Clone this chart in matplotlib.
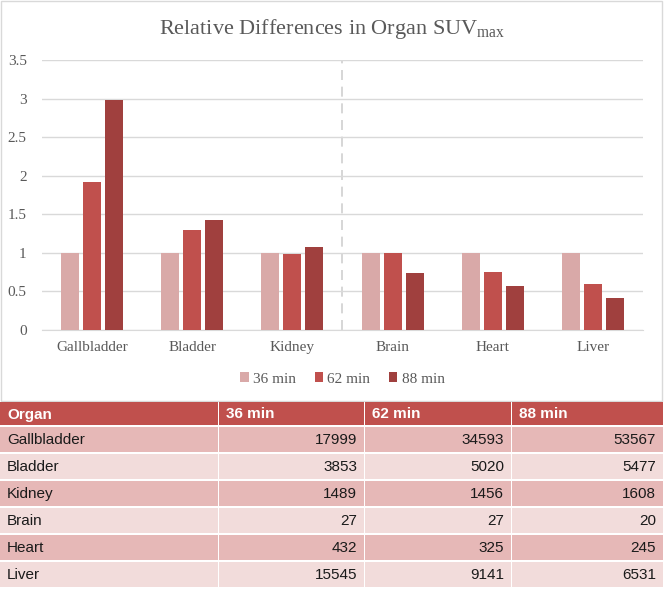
import numpy as np
import matplotlib
matplotlib.use("Agg")
import matplotlib.pyplot as plt
from matplotlib.patches import Rectangle

organs = ["Gallbladder", "Bladder", "Kidney", "Brain", "Heart", "Liver"]
series = ["36 min", "62 min", "88 min"]

# relative SUVmax (bar heights)
rel_36 = [1.0, 1.0, 1.0, 1.0, 1.0, 1.0]
rel_62 = [1.92, 1.30, 0.98, 1.0, 0.75, 0.59]
rel_88 = [2.98, 1.42, 1.08, 0.74, 0.57, 0.42]

# table values
suv_36 = [17999, 3853, 1489, 27, 432, 15545]
suv_62 = [34593, 5020, 1456, 27, 325, 9141]
suv_88 = [53567, 5477, 1608, 20, 245, 6531]

bar_colors = ["#D9A9A8", "#C0504D", "#A0403E"]
txt = "#595959"
serif = "Liberation Serif"

plt.rcParams["mathtext.fontset"] = "custom"
plt.rcParams["mathtext.rm"] = serif

W, H = 664, 590
fig = plt.figure(figsize=(W / 100, H / 100), dpi=100)

# overlay in pixel coords for border + table
ov = fig.add_axes([0, 0, 1, 1])
ov.set_xlim(0, W)
ov.set_ylim(H, 0)
ov.axis("off")
ov.add_patch(Rectangle((1, 1), 661, 400, fill=False, edgecolor="#D9D9D9", lw=1))

# chart axes
x0, x1, ytop, ybot = 42, 643, 60, 330
ax = fig.add_axes([x0 / W, 1 - ybot / H, (x1 - x0) / W, (ybot - ytop) / H])
ax.set_facecolor("none")
x = np.arange(len(organs))
bw, step = 0.18, 0.22
for i, (vals, c) in enumerate(zip([rel_36, rel_62, rel_88], bar_colors)):
    ax.bar(x + (i - 1) * step, vals, width=bw, color=c, label=series[i], zorder=3)

ax.set_xlim(-0.5, 5.5)
ax.set_ylim(0, 3.5)
ax.set_yticks(np.arange(0, 3.51, 0.5))
ax.set_yticklabels(["0", "0.5", "1", "1.5", "2", "2.5", "3", "3.5"])
ax.grid(axis="y", color="#D9D9D9", lw=1, zorder=0)
ax.axvline(2.5, color="#D0D0D0", lw=1.2, ls=(0, (6, 4)), zorder=1)
for s in ["top", "right", "left"]:
    ax.spines[s].set_visible(False)
ax.spines["bottom"].set_color("#D9D9D9")
ax.tick_params(length=0, labelcolor=txt, labelsize=11)
ax.tick_params(axis="y", pad=11)
ax.tick_params(axis="x", pad=8)
ax.set_xticks(x)
ax.set_xticklabels(organs)
for lab in ax.get_xticklabels() + ax.get_yticklabels():
    lab.set_fontfamily(serif)

fig.text(0.5, 1 - 29 / H, r"Relative Differences in Organ SUV$_{\mathrm{max}}$",
         ha="center", va="center", fontsize=16, color=txt, fontfamily=serif)

leg = ax.legend(loc="center", bbox_to_anchor=(0.5, (ybot - 379) / (ybot - ytop)),
                ncol=3, frameon=False, handlelength=0.55, handleheight=0.55,
                handletextpad=0.3, columnspacing=1.2,
                prop={"family": serif, "size": 11})
for t in leg.get_texts():
    t.set_color(txt)

# table
col_edges = [0, 219, 365, 512, 664]
row_top = 402
head_h = 23
row_h = 27
head_color = "#C0504D"
row_colors = ["#E6B8B7", "#F2DCDB"]
sans = "Liberation Sans"
headers = ["Organ"] + series

for j, h in enumerate(headers):
    ov.add_patch(Rectangle((col_edges[j], row_top), col_edges[j + 1] - col_edges[j] - 1.5,
                           head_h, color=head_color, lw=0))
    ov.text(col_edges[j] + 7, row_top + head_h / 2 + 1, h, ha="left", va="center",
            color="white", fontweight="bold", fontsize=11, fontfamily=sans)

for i, organ in enumerate(organs):
    yt = row_top + head_h + 1.5 + i * row_h
    vals = [organ, suv_36[i], suv_62[i], suv_88[i]]
    for j, v in enumerate(vals):
        ov.add_patch(Rectangle((col_edges[j], yt), col_edges[j + 1] - col_edges[j] - 1.5,
                               row_h - 1.5, color=row_colors[i % 2], lw=0))
        if j == 0:
            ov.text(col_edges[j] + 7, yt + row_h / 2, v, ha="left", va="center",
                    color="#1A1A1A", fontsize=11, fontfamily=sans)
        else:
            ov.text(col_edges[j + 1] - 8, yt + row_h / 2, str(v), ha="right", va="center",
                    color="#1A1A1A", fontsize=11, fontfamily=sans)

fig.savefig("out.png", dpi=100)
